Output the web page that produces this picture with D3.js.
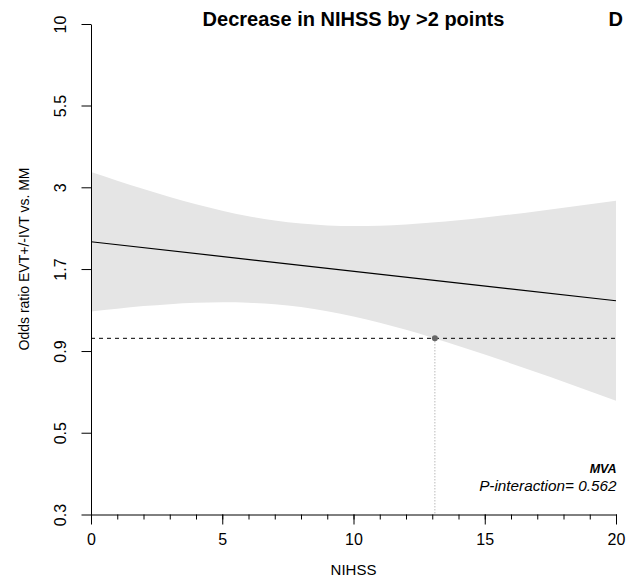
<!DOCTYPE html>
<html>
<head>
<meta charset="utf-8">
<script src="https://cdn.jsdelivr.net/npm/d3@7/dist/d3.min.js"></script>
<style>
  html, body { margin: 0; padding: 0; background: #fff; }
  svg { display: block; font-family: "Liberation Sans", Arial, Helvetica, sans-serif; }
</style>
</head>
<body>
<svg id="chart" width="640" height="582"></svg>
<script>
// ---- data ----
const nihss   = [0, 1, 2, 3, 4, 5, 6, 7, 8, 9, 10, 11, 12, 13, 14, 15, 16, 17, 18, 19, 20];
const upperOR = [3.380, 3.172, 2.984, 2.817, 2.672, 2.548, 2.447, 2.370, 2.318, 2.287, 2.277,
                 2.283, 2.304, 2.335, 2.376, 2.424, 2.478, 2.538, 2.603, 2.672, 2.739];
const lowerOR = [1.218, 1.243, 1.266, 1.284, 1.297, 1.302, 1.298, 1.284, 1.257, 1.220, 1.174,
                 1.121, 1.064, 1.005, 0.946, 0.889, 0.832, 0.778, 0.727, 0.678, 0.633];
const lineX   = [0, 20];
const lineOR  = [2.029, 1.317];
const refOR   = 1;
const crossX  = 13.1;
const yTickValues = [0.2751, 0.5008, 0.911, 1.661, 3.023, 5.504, 10];
const yTickLabels = ["0.3", "0.5", "0.9", "1.7", "3", "5.5", "10"];
const xTickValues = [0, 5, 10, 15, 20];
const xMinorTicks = d3.range(0, 21, 1);
const titleText = "Decrease in NIHSS by >2 points";
const panelLabel = "D";
const xLabel = "NIHSS";
const yLabel = "Odds ratio EVT+/-IVT vs. MM";
const noteBold = "MVA";
const noteText = "P-interaction= 0.562";

// ---- layout ----
const mLeft = 91, mRight = 616, mTop = 24, mBottom = 514.5;
const svg = d3.select("#chart");

const x = d3.scaleLinear().domain([0, 20]).range([mLeft, mRight]);
const y = d3.scaleLog().domain([yTickValues[0], yTickValues[yTickValues.length - 1]]).range([mBottom, mTop]);

// confidence band
const bandData = nihss.map((v, i) => ({ x: v, lo: lowerOR[i], hi: upperOR[i] }));
svg.append("path")
  .datum(bandData)
  .attr("fill", "#e5e5e5")
  .attr("stroke", "none")
  .attr("d", d3.area().curve(d3.curveNatural)
    .x(d => x(d.x)).y0(d => y(d.lo)).y1(d => y(d.hi)));

// reference dashed line
svg.append("line")
  .attr("x1", x(0)).attr("x2", x(20))
  .attr("y1", y(refOR)).attr("y2", y(refOR))
  .attr("stroke", "#000").attr("stroke-width", 1)
  .attr("stroke-dasharray", "4,4");

// dotted vertical line from crossing point
svg.append("line")
  .attr("x1", x(crossX)).attr("x2", x(crossX))
  .attr("y1", y(refOR)).attr("y2", mBottom)
  .attr("stroke", "#999").attr("stroke-width", 1)
  .attr("stroke-dasharray", "1,2");

// estimate line
svg.append("path")
  .datum(lineX.map((v, i) => ({ x: v, y: lineOR[i] })))
  .attr("fill", "none").attr("stroke", "#000").attr("stroke-width", 1.2)
  .attr("d", d3.line().x(d => x(d.x)).y(d => y(d.y)));

// crossing point
svg.append("circle")
  .attr("cx", x(crossX)).attr("cy", y(refOR)).attr("r", 3)
  .attr("fill", "#666");

// ---- axes ----
const yAxis = svg.append("g")
  .attr("transform", `translate(${mLeft},0)`)
  .call(d3.axisLeft(y).tickValues(yTickValues).tickSize(9.5).tickSizeOuter(0)
    .tickFormat((d, i) => yTickLabels[i]));
yAxis.selectAll("text")
  .attr("transform", "rotate(-90)")
  .attr("x", 0).attr("y", -25.5).attr("dy", 0)
  .attr("text-anchor", "middle")
  .attr("fill", "#000")
  .style("font-size", "16px");

const xAxis = svg.append("g")
  .attr("transform", `translate(0,${mBottom})`)
  .call(d3.axisBottom(x).tickValues(xTickValues).tickSize(10).tickSizeOuter(0)
    .tickFormat(d3.format("d")));
xAxis.selectAll("text")
  .attr("y", 30.5).attr("dy", 0)
  .attr("fill", "#000")
  .style("font-size", "16px");

const xMinor = svg.append("g")
  .attr("transform", `translate(0,${mBottom})`)
  .call(d3.axisBottom(x).tickValues(xMinorTicks).tickSize(5).tickSizeOuter(0).tickFormat(""));
xMinor.select(".domain").remove();

svg.selectAll(".domain, .tick line").attr("stroke", "#000").attr("stroke-width", 1);
svg.selectAll(".tick text").style("font-family", "\"Liberation Sans\", Arial, Helvetica, sans-serif");

// ---- texts ----
svg.append("text")
  .attr("x", (mLeft + mRight) / 2).attr("y", 26)
  .attr("text-anchor", "middle")
  .style("font-size", "20px").style("font-weight", "bold")
  .text(titleText);

svg.append("text")
  .attr("x", 623).attr("y", 26)
  .attr("text-anchor", "end")
  .style("font-size", "20px").style("font-weight", "bold")
  .text(panelLabel);

svg.append("text")
  .attr("x", (mLeft + mRight) / 2).attr("y", 574.5)
  .attr("text-anchor", "middle")
  .style("font-size", "15px")
  .text(xLabel);

svg.append("text")
  .attr("transform", "translate(28.5,259) rotate(-90)")
  .attr("text-anchor", "middle")
  .style("font-size", "14px")
  .text(yLabel);

svg.append("text")
  .attr("x", 616.5).attr("y", 472.7)
  .attr("text-anchor", "end")
  .style("font-size", "12.5px").style("font-weight", "bold").style("font-style", "italic")
  .text(noteBold);

svg.append("text")
  .attr("x", 616.5).attr("y", 490.7)
  .attr("text-anchor", "end")
  .style("font-size", "15.3px").style("font-style", "italic")
  .text(noteText);
</script>
</body>
</html>
